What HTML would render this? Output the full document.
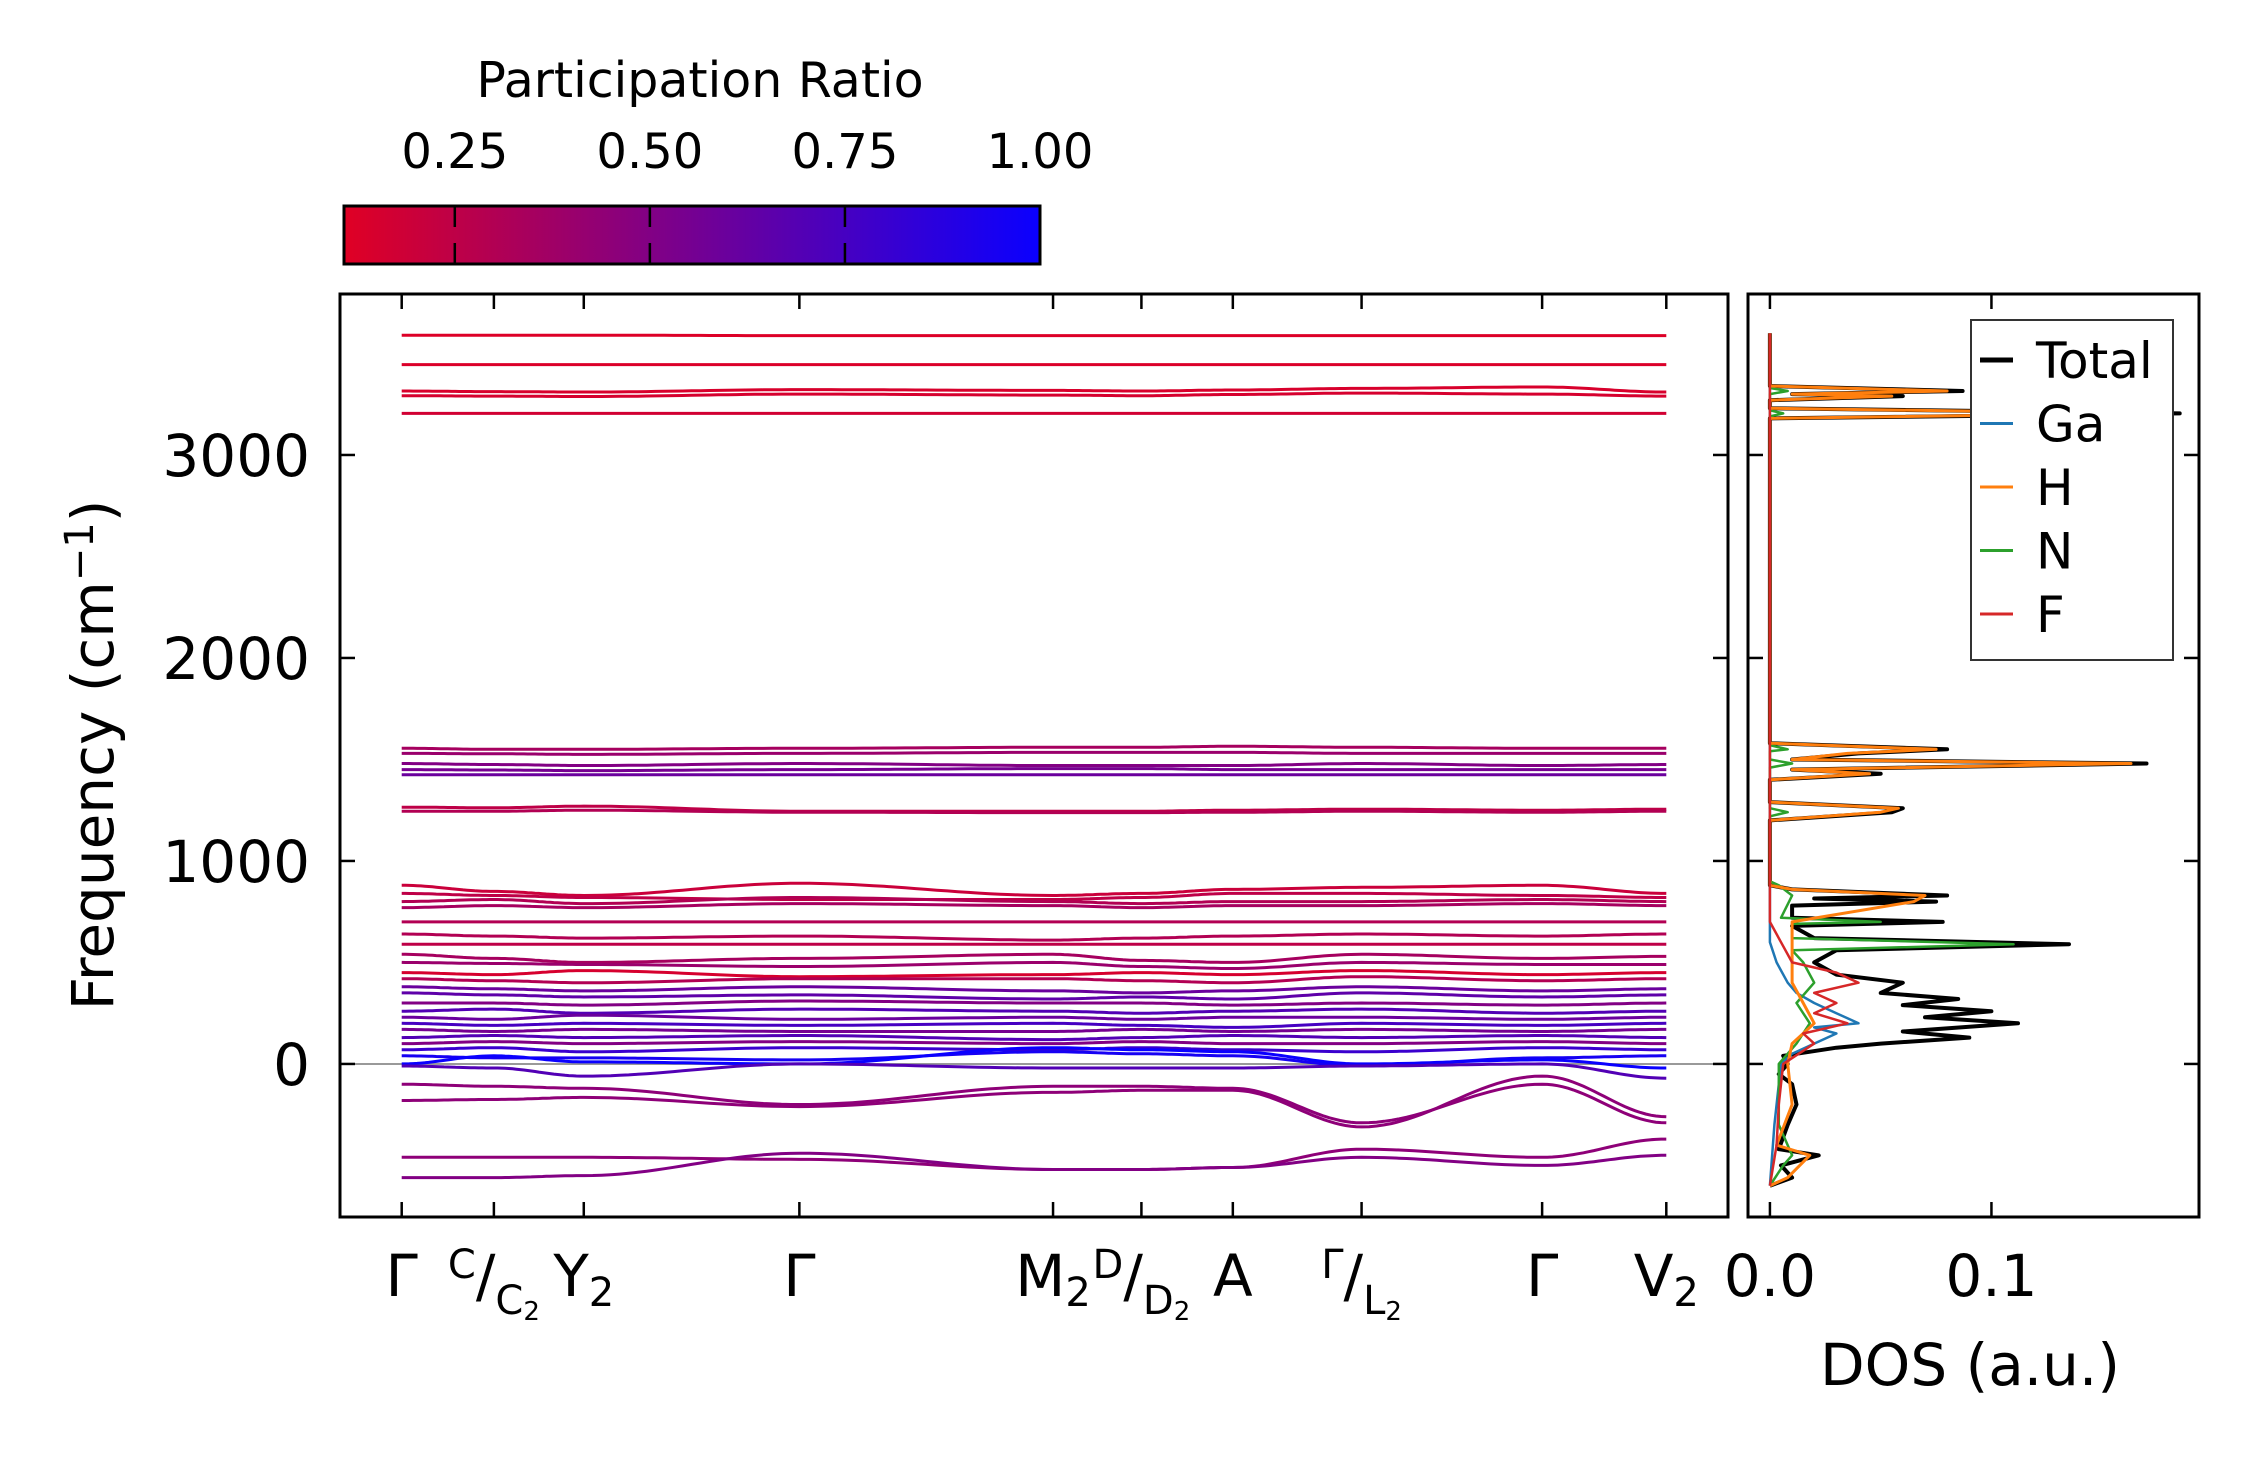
<!DOCTYPE html>
<html><head><meta charset="utf-8"><style>
html,body{margin:0;padding:0;background:#fff}
svg text{font-family:"DejaVu Sans","Liberation Sans",sans-serif;fill:#000}
</style></head><body>
<svg id="fig" width="2259" height="1455" xmlns="http://www.w3.org/2000/svg">
<defs>
<linearGradient id="cmap" x1="0" x2="1" y1="0" y2="0">
<stop offset="0" stop-color="rgb(224,0,36)"/><stop offset="1" stop-color="rgb(10,0,255)"/>
</linearGradient>
<clipPath id="mainclip"><rect x="340" y="294" width="1388" height="923"/></clipPath>
<clipPath id="dosclip"><rect x="1748" y="294" width="451" height="923"/></clipPath>
</defs>
<g id="colorbar">
<text x="700" y="97" font-size="49" text-anchor="middle">Participation Ratio</text>
<rect x="344" y="206" width="696" height="58" fill="url(#cmap)" stroke="#000" stroke-width="3"/>
</g>
<g id="bands" clip-path="url(#mainclip)"></g>
<g id="dos" clip-path="url(#dosclip)"></g>
<g id="axes"></g>
<g>
<rect x="1971" y="320" width="202" height="340" fill="#fff" stroke="#333" stroke-width="2"/>
<g id="legitems"></g>
</g>
<text transform="translate(113,755) rotate(-90)" font-size="58" text-anchor="middle">Frequency (cm<tspan dy="-20" font-size="40">−1</tspan><tspan dy="20">)</tspan></text>
<text x="1970" y="1385" font-size="58" text-anchor="middle">DOS (a.u.)</text>
</svg>
<script>
const kLabels=["Γ","C/C2","Y2","Γ","M2","D/D2","A","Γ/L2","Γ","V2"];
const kPos=[0,1.21,2.39,5.22,8.55,9.71,10.91,12.6,14.97,16.6];
const yTicks=[0,1000,2000,3000];
const cbTicks=[0.25,0.50,0.75,1.00];
const bandPR=[0.12,0.13,0.14,0.15,0.17,0.35,0.4,0.5,0.55,0.6,0.25,0.3,0.2,0.25,0.3,0.35,0.3,0.3,0.25,0.35,0.4,0.15,0.3,0.6,0.65,0.5,0.7,0.6,0.75,0.55,0.7,0.5,0.8,0.95,1.0,0.7,0.45,0.45,0.45,0.5];
const bandFreq=[
[3590,3590,3590,3588,3588,3588,3588,3588,3588,3588],
[3445,3445,3445,3445,3445,3445,3445,3445,3445,3445],
[3315,3312,3310,3322,3318,3315,3320,3328,3335,3310],
[3292,3290,3288,3300,3295,3292,3298,3305,3300,3290],
[3205,3205,3205,3205,3205,3205,3205,3205,3205,3205],
[1555,1550,1550,1555,1560,1560,1565,1560,1555,1555],
[1530,1528,1525,1530,1535,1535,1535,1530,1530,1530],
[1480,1475,1470,1480,1470,1470,1470,1480,1470,1475],
[1450,1448,1445,1450,1455,1455,1450,1450,1450,1450],
[1425,1425,1425,1425,1425,1425,1425,1425,1425,1425],
[1265,1262,1270,1245,1245,1245,1250,1255,1250,1255],
[1245,1245,1250,1240,1238,1238,1240,1245,1240,1245],
[880,850,830,890,830,840,860,870,880,840],
[840,830,820,810,810,820,840,840,830,820],
[800,810,790,820,800,790,800,800,810,800],
[770,780,770,790,780,770,780,780,790,780],
[700,700,700,700,700,700,700,700,700,700],
[640,630,620,630,610,620,630,640,630,640],
[590,590,590,590,590,590,590,590,590,590],
[540,520,500,520,540,510,500,540,520,530],
[500,495,490,480,500,480,470,500,490,490],
[450,440,460,430,440,450,440,460,440,450],
[420,410,400,420,420,410,400,430,410,420],
[380,370,360,380,360,350,360,380,360,370],
[350,340,330,340,320,330,320,350,330,340],
[300,300,290,310,300,300,290,300,290,300],
[260,270,250,270,260,250,260,270,250,260],
[230,220,240,220,230,220,230,230,220,230],
[200,190,200,190,200,190,180,200,190,200],
[170,160,170,160,160,170,160,170,160,170],
[130,140,130,140,120,130,140,130,140,130],
[100,110,100,110,100,110,100,100,110,100],
[70,80,60,80,70,80,70,60,80,70],
[40,30,30,20,60,50,40,-10,30,40],
[0,40,10,0,80,70,60,0,20,-20],
[-10,-20,-60,0,-20,-20,-20,-10,0,-70],
[-100,-110,-120,-200,-110,-110,-120,-290,-100,-290],
[-180,-175,-165,-210,-140,-130,-130,-310,-60,-260],
[-460,-460,-460,-470,-520,-520,-510,-420,-460,-370],
[-560,-560,-550,-440,-520,-520,-510,-460,-500,-450]];
const dosTotal=[[-600,0],[-560,0.01],[-500,0.005],[-450,0.022],[-420,0.004],[-300,0.008],[-200,0.012],[-100,0.01],[-50,0.004],[0,0.008],[40,0.006],[80,0.03],[100,0.05],[130,0.09],[160,0.06],[200,0.112],[230,0.07],[260,0.1],[290,0.06],[320,0.085],[350,0.05],[400,0.06],[440,0.03],[500,0.02],[560,0.03],[590,0.135],[620,0.02],[680,0.01],[700,0.078],[720,0.01],[780,0.01],[800,0.075],[815,0.02],[830,0.08],[860,0.01],[880,0],[1200,0],[1240,0.055],[1260,0.06],[1290,0],[1400,0],[1430,0.05],[1450,0.01],[1480,0.17],[1500,0.01],[1530,0.04],[1550,0.08],[1580,0],[3180,0],[3205,0.185],[3230,0],[3270,0],[3290,0.06],[3300,0.01],[3315,0.087],[3340,0],[3600,0]];
const dosGa=[[-600,0],[-300,0.002],[-100,0.004],[0,0.005],[50,0.01],[100,0.02],[150,0.03],[180,0.02],[200,0.04],[250,0.03],[300,0.02],[350,0.012],[400,0.008],[500,0.003],[600,0],[3600,0]];
const dosH=[[-600,0],[-560,0.008],[-450,0.018],[-400,0.003],[-200,0.01],[0,0.008],[100,0.01],[200,0.02],[300,0.015],[400,0.01],[590,0.01],[700,0.01],[800,0.065],[830,0.07],[860,0.01],[880,0],[1200,0],[1240,0.05],[1260,0.058],[1290,0],[1400,0],[1430,0.045],[1450,0.01],[1480,0.163],[1500,0.01],[1530,0.035],[1550,0.075],[1580,0],[3180,0],[3205,0.165],[3230,0],[3270,0],[3290,0.055],[3300,0.01],[3315,0.08],[3340,0],[3600,0]];
const dosN=[[-600,0],[-500,0.006],[-450,0.01],[-300,0.004],[0,0.004],[100,0.012],[200,0.018],[300,0.012],[400,0.02],[500,0.015],[560,0.01],[590,0.11],[620,0.01],[690,0.01],[700,0.05],[720,0.005],[830,0.01],[880,0.004],[900,0],[1220,0],[1240,0.008],[1260,0],[1460,0],[1480,0.01],[1500,0],[1540,0],[1550,0.008],[1570,0],[3190,0],[3205,0.006],[3220,0],[3300,0],[3315,0.008],[3330,0],[3600,0]];
const dosF=[[-600,0],[-400,0.003],[-200,0.004],[0,0.006],[100,0.02],[150,0.015],[200,0.035],[250,0.02],[300,0.03],[350,0.02],[400,0.04],[450,0.03],[500,0.01],[600,0.005],[700,0],[3600,0]];
const dosTicks=[0.0,0.1];

const NS="http://www.w3.org/2000/svg";
function mk(tag,attrs,parent){const e=document.createElementNS(NS,tag);for(const k in attrs)e.setAttribute(k,attrs[k]);parent.appendChild(e);return e;}
const L=340,R=1728,T=294,B=1217,DL=1748,DR=2199;
const kMin=-0.81,kMax=17.41,fMin=-754,fMax=3793;
const xk=k=>L+(k-kMin)/(kMax-kMin)*(R-L);
const yf=f=>B-(f-fMin)/(fMax-fMin)*(B-T);
const dMin=-0.0099,dMax=0.1937;
const xd=d=>DL+(d-dMin)/(dMax-dMin)*(DR-DL);
function prColor(p){const t=Math.max(0,Math.min(1,(p-0.108)/(1-0.108)));return `rgb(${Math.round(224-214*t)},0,${Math.round(36+219*t)})`;}

const bandsG=document.getElementById('bands');
const z=mk('line',{x1:L,x2:R,y1:yf(0),y2:yf(0),stroke:'#999','stroke-width':2},bandsG);


bandFreq.forEach((vals,bi)=>{
  let d='';
  for(let s=0;s<kPos.length-1;s++){
    const n=24;
    for(let i=(s===0?0:1);i<=n;i++){
      const t=i/n,w=(1-Math.cos(Math.PI*t))/2;
      const k=kPos[s]+(kPos[s+1]-kPos[s])*t;
      const f=vals[s]+(vals[s+1]-vals[s])*w;
      d+=(d?'L':'M')+xk(k).toFixed(1)+' '+yf(f).toFixed(1);
    }
  }
  const p=mk('path',{d:d,fill:'none',stroke:prColor(bandPR[bi]),'stroke-width':3},bandsG);
  
  
});

const dosG=document.getElementById('dos');
[[dosTotal,'#000',4,'dos-total'],[dosGa,'#1f77b4',2.5,'dos-ga'],[dosN,'#2ca02c',2.5,'dos-n'],[dosH,'#ff7f0e',3,'dos-h'],[dosF,'#d62728',2.5,'dos-f']].forEach(([ser,c,w,name])=>{
  const d=ser.map((p,i)=>(i?'L':'M')+xd(p[1]).toFixed(1)+' '+yf(p[0]).toFixed(1)).join('');
  const e=mk('path',{d:d,fill:'none',stroke:c,'stroke-width':w,'stroke-linejoin':'round'},dosG);
  
  
});

const ax=document.getElementById('axes');
const f1=mk('rect',{x:L,y:T,width:R-L,height:B-T,fill:'none',stroke:'#000','stroke-width':3},ax);


const f2=mk('rect',{x:DL,y:T,width:DR-DL,height:B-T,fill:'none',stroke:'#000','stroke-width':3},ax);


const TL=15;
kPos.forEach((k,i)=>{
  const x=xk(k);
  mk('line',{x1:x,x2:x,y1:B,y2:B-TL,stroke:'#000','stroke-width':2.5},ax);
  mk('line',{x1:x,x2:x,y1:T,y2:T+TL,stroke:'#000','stroke-width':2.5},ax);
  const lab=kLabels[i];
  const t=mk('text',{x:x,y:1296,'font-size':58,'text-anchor':'middle'},ax);
  
  
  if(lab.includes('/')){
    const [a,b]=lab.split('/');
    t.innerHTML=`<tspan font-size="40" dy="-18">${a}</tspan><tspan dy="18">/</tspan><tspan font-size="40" dy="18">${b[0]}</tspan><tspan font-size="26" dy="6">${b.slice(1)}</tspan>`;
  } else if(lab.length>1){
    t.innerHTML=`${lab[0]}<tspan font-size="40" dy="10">${lab.slice(1)}</tspan>`;
  } else t.textContent=lab;
});
yTicks.forEach((v,i)=>{
  const y=yf(v);
  mk('line',{x1:L,x2:L+TL,y1:y,y2:y,stroke:'#000','stroke-width':2.5},ax);
  mk('line',{x1:R,x2:R-TL,y1:y,y2:y,stroke:'#000','stroke-width':2.5},ax);
  mk('line',{x1:DL,x2:DL+TL,y1:y,y2:y,stroke:'#000','stroke-width':2.5},ax);
  mk('line',{x1:DR,x2:DR-TL,y1:y,y2:y,stroke:'#000','stroke-width':2.5},ax);
  const t=mk('text',{x:L-30,y:y+21,'font-size':58,'text-anchor':'end'},ax);
  t.textContent=v;
  
  
});
dosTicks.forEach((v,i)=>{
  const x=xd(v);
  mk('line',{x1:x,x2:x,y1:B,y2:B-TL,stroke:'#000','stroke-width':2.5},ax);
  mk('line',{x1:x,x2:x,y1:T,y2:T+TL,stroke:'#000','stroke-width':2.5},ax);
  const t=mk('text',{x:x,y:1296,'font-size':58,'text-anchor':'middle'},ax);
  t.textContent=v.toFixed(1);
  
  
});
const cb=document.getElementById('colorbar');
const cbx=v=>344+(v-0.108)/(1-0.108)*696;
cbTicks.forEach((v,i)=>{
  const x=cbx(v);
  if(v<1){mk('line',{x1:x,x2:x,y1:206,y2:227,stroke:'#000','stroke-width':2.5},cb);
  mk('line',{x1:x,x2:x,y1:243,y2:264,stroke:'#000','stroke-width':2.5},cb);}
  const t=mk('text',{x:x,y:168,'font-size':48,'text-anchor':'middle'},cb);
  t.textContent=v.toFixed(2);
  
  
});
const lg=document.getElementById('legitems');
[['Total','#000',5],['Ga','#1f77b4',3],['H','#ff7f0e',3],['N','#2ca02c',3],['F','#d62728',3]].forEach(([n,c,w],i)=>{
  const y=360+i*63.5;
  mk('line',{x1:1980,x2:2013,y1:y,y2:y,stroke:c,'stroke-width':w},lg);
  const t=mk('text',{x:2036,y:y+18,'font-size':50},lg);
  t.textContent=n;
  
  
});
</script>
</body></html>
